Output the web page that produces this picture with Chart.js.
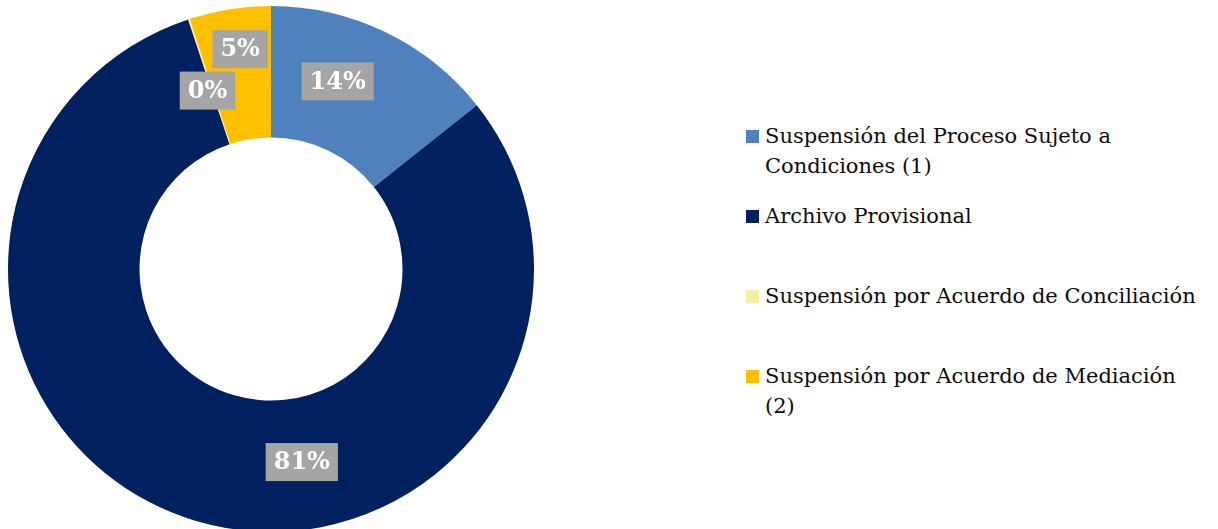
<!DOCTYPE html>
<html>
<head>
<meta charset="utf-8">
<script src="https://cdn.jsdelivr.net/npm/chart.js@4.4.0/dist/chart.umd.min.js"></script>
<style>
  body { margin: 0; background: #fff; width: 1218px; height: 529px; overflow: hidden; position: relative; }
  #wrap { position: absolute; left: 0; top: 0; width: 542px; height: 538px; }
  #leyenda { position: absolute; left: 746px; top: 0; font-family: "DejaVu Serif", serif; font-size: 21px; color: #0d0d0d; }
  .item { position: absolute; left: 0; width: 470px; line-height: 30px; white-space: nowrap; }
  .item span.cuadro { position: absolute; left: 0; top: 9px; width: 13px; height: 13px; }
  .item div.texto { margin-left: 19px; }
</style>
</head>
<body>
<div id="wrap"><canvas id="grafico" width="542" height="538"></canvas></div>
<div id="leyenda"></div>
<script>
const categorias = [
    ["Suspensión del Proceso Sujeto a", "Condiciones (1)"],
    ["Archivo Provisional"],
    ["Suspensión por Acuerdo de Conciliación"],
    ["Suspensión por Acuerdo de Mediación", "(2)"]
];
const valores = [14.3, 80.6, 0.1, 5.0];
const colores = ["#4F81BD", "#002060", "#F5F0A0", "#FFC000"];

// desplazamientos de las etiquetas respecto al centro de cada sector
const ajustesEtiqueta = [[-19, -10], [87, 4], [-2, 9], [0, -25]];

const leyenda = document.getElementById("leyenda");
const posicionesLeyenda = [121, 201, 281, 361];
categorias.forEach((cat, i) => {
    const item = document.createElement("div");
    item.className = "item";
    item.style.top = posicionesLeyenda[i] + "px";
    item.innerHTML = `<span class="cuadro" style="background:${colores[i]}"></span><div class="texto">${cat.join("<br>")}</div>`;
    leyenda.appendChild(item);
});

const etiquetas = {
    id: "etiquetas",
    afterDatasetsDraw(chart) {
        const ctx = chart.ctx;
        const meta = chart.getDatasetMeta(0);
        const total = valores.reduce((a, b) => a + b, 0);
        ctx.save();
        ctx.font = "bold 24px 'DejaVu Serif'";
        ctx.textAlign = "center";
        ctx.textBaseline = "middle";
        meta.data.forEach((arc, i) => {
            const p = arc.tooltipPosition();
            const x = p.x + ajustesEtiqueta[i][0];
            const y = p.y + ajustesEtiqueta[i][1];
            const txt = Math.round(valores[i] / total * 100) + "%";
            const w = ctx.measureText(txt).width + 16;
            const h = 38;
            ctx.fillStyle = "#A5A5A5";
            ctx.fillRect(x - w / 2, y - h / 2, w, h);
            ctx.fillStyle = "#ffffff";
            ctx.fillText(txt, x, y + 1);
        });
        ctx.restore();
    }
};

new Chart(document.getElementById("grafico"), {
    type: "doughnut",
    data: {
        labels: categorias.map(c => c.join(" ")),
        datasets: [{ data: valores, backgroundColor: colores, borderWidth: 0 }]
    },
    options: {
        responsive: false,
        animation: false,
        cutout: "50%",
        layout: { padding: 6 },
        plugins: { legend: { display: false }, tooltip: { enabled: false } }
    },
    plugins: [etiquetas]
});
</script>
</body>
</html>
